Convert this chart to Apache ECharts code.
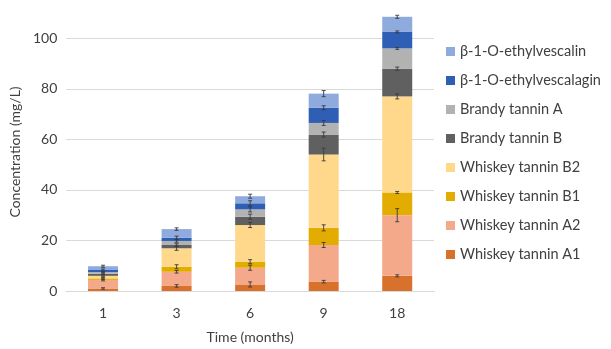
<!DOCTYPE html>
<html><head><meta charset="utf-8">
<script src="https://cdn.jsdelivr.net/npm/echarts@6/dist/echarts.min.js"></script>
<style>html,body{margin:0;padding:0;background:#fff}#c{width:611px;height:349px}</style>
</head><body><div id="c"></div>
<script>
const categories = ['1', '3', '6', '9', '18'];
const seriesNames = ['Whiskey tannin A1','Whiskey tannin A2','Whiskey tannin B1','Whiskey tannin B2','Brandy tannin B','Brandy tannin A','β-1-O-ethylvescalagin','β-1-O-ethylvescalin'];
const whiskeyA1 = [1.0, 2.0, 2.6, 3.7, 6.0];
const whiskeyA2 = [3.4, 5.6, 6.6, 14.5, 24.0];
const whiskeyB1 = [0.6, 2.0, 2.4, 6.8, 9.0];
const whiskeyB2 = [1.0, 7.3, 14.5, 29.0, 38.0];
const brandyB   = [0.8, 1.3, 3.3, 7.9, 11.0];
const brandyA   = [0.7, 1.6, 2.9, 4.6, 8.0];
const vescalagin= [0.8, 1.3, 2.4, 6.0, 6.5];
const vescalin  = [1.5, 3.4, 2.8, 5.6, 6.0];
const errA1 = [0.3, 0.5, 1.0, 0.5, 0.4];
const errA2 = [0.4, 0.5, 1.0, 1.0, 2.6];
const errB1 = [0.4, 0.8, 0.8, 1.2, 0.4];
const errB2 = [0.4, 0.8, 1.0, 2.5, 1.0];
const errBrB = [0.4, 0.5, 1.0, 1.0, 0.6];
const errBrA = [0.4, 0.5, 1.0, 1.0, 0.4];
const errVgn = [0.4, 0.6, 1.0, 0.8, 0.4];
const errVin = [0.4, 0.5, 0.8, 1.2, 0.6];
const yTicks = [0, 20, 40, 60, 80, 100];

const values = [whiskeyA1, whiskeyA2, whiskeyB1, whiskeyB2, brandyB, brandyA, vescalagin, vescalin];
const errors = [errA1, errA2, errB1, errB2, errBrB, errBrA, errVgn, errVin];
const colors = ['#D8712C','#F3A98A','#E3AC00','#FFD88C','#606060','#B2B2B2','#2F5FB5','#8FAADC'];

const errData = [];
categories.forEach((c, i) => {
  let cum = 0;
  values.forEach((v, s) => { cum += v[i]; errData.push([i, cum, errors[s][i]]); });
});

const font = 'Lato, "Open Sans", sans-serif';
const txt = '#404040';
const series = values.map((v, s) => ({
  name: seriesNames[s], type: 'bar', stack: 'total', data: v, barWidth: 30,
  itemStyle: { color: colors[s] }, z: 2
}));
series[0].markLine = {
  silent: true, symbol: 'none', label: { show: false },
  lineStyle: { color: '#D9D9D9', type: 'solid', width: 1 },
  data: yTicks.map(t => ({ yAxis: t })), z: 1
};
series.push({
  type: 'custom', z: 5, silent: true,
  renderItem: (params, api) => {
    const x = api.value(0), y = api.value(1), e = api.value(2);
    const hi = api.coord([x, y + e]), lo = api.coord([x, y - e]);
    const w = 2;
    const style = { stroke: '#3a3a3a', lineWidth: 0.9 };
    return { type: 'group', children: [
      { type: 'line', shape: { x1: hi[0], y1: hi[1], x2: lo[0], y2: lo[1] }, style },
      { type: 'line', shape: { x1: hi[0]-w, y1: hi[1], x2: hi[0]+w, y2: hi[1] }, style },
      { type: 'line', shape: { x1: lo[0]-w, y1: lo[1], x2: lo[0]+w, y2: lo[1] }, style }
    ]};
  },
  data: errData
});

const chart = echarts.init(document.getElementById('c'), null, { renderer: 'canvas' });
chart.setOption({
  animation: false,
  textStyle: { fontFamily: font },
  grid: { left: 64, right: 177, top: 13, bottom: 58 },
  legend: {
    orient: 'vertical', left: 441, top: 39,
    data: seriesNames.slice().reverse(),
    itemWidth: 9, itemHeight: 9, itemGap: 14, icon: 'rect',
    textStyle: { fontFamily: font, fontSize: 14.5, color: txt }
  },
  xAxis: {
    type: 'category', data: categories,
    name: 'Time (months)', nameLocation: 'middle', nameGap: 39,
    nameTextStyle: { fontFamily: font, fontSize: 14, color: txt },
    axisLine: { lineStyle: { color: '#C8C8C8' } },
    axisTick: { show: false },
    axisLabel: { margin: 15, fontSize: 14, color: txt, fontFamily: font }
  },
  yAxis: {
    type: 'value', min: 0, max: 110, interval: 20,
    name: 'Concentration (mg/L)', nameLocation: 'middle', nameGap: 43,
    nameTextStyle: { fontFamily: font, fontSize: 14, color: txt },
    splitLine: { show: false },
    axisLine: { show: false }, axisTick: { show: false },
    axisLabel: { margin: 9, fontSize: 14, color: txt, fontFamily: font,
      formatter: v => (yTicks.indexOf(v) >= 0 ? String(v) : '') }
  },
  series
});
</script></body></html>
